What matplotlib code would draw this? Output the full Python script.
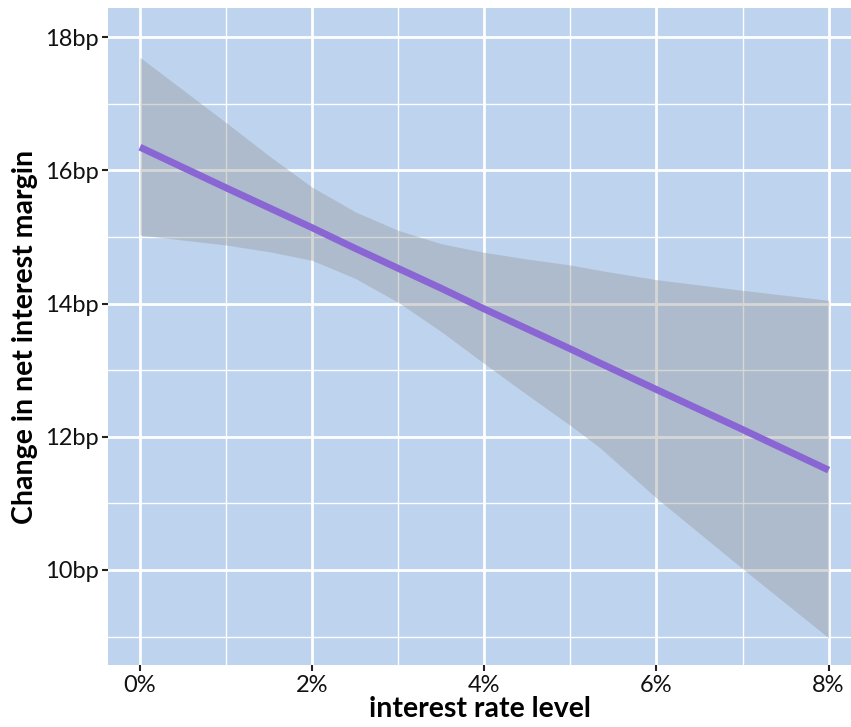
import matplotlib.pyplot as plt
import numpy as np

# interest rate level (%) and fitted change in NIM (bp)
rate = [0, 1, 1.5, 2, 2.5, 3, 3.5, 4, 4.5, 5, 5.34, 6, 7, 8]
fit = [16.35, 15.74, 15.44, 15.14, 14.83, 14.53, 14.23, 13.92, 13.62, 13.32,
       13.11, 12.71, 12.11, 11.50]
upper = [17.70, 16.72, 16.22, 15.75, 15.38, 15.10, 14.90, 14.77, 14.67, 14.58,
         14.50, 14.36, 14.20, 14.05]
lower = [15.03, 14.88, 14.78, 14.65, 14.38, 14.02, 13.58, 13.10, 12.63, 12.17,
         11.84, 11.08, 10.02, 8.98]

xticks = [0, 2, 4, 6, 8]
xlabels = ['0%', '2%', '4%', '6%', '8%']
yticks = [10, 12, 14, 16, 18]
ylabels = ['10bp', '12bp', '14bp', '16bp', '18bp']

plt.rcParams['font.family'] = ['Lato', 'DejaVu Sans']

fig = plt.figure(figsize=(8.51, 7.27), dpi=100)
ax = fig.add_axes([0.127, 0.085, 0.873, 0.904])
ax.set_facecolor('#BDD3EE')

# grid: minor then major
for v in [1, 3, 5, 7]:
    ax.axvline(v, color='white', lw=1.0, zorder=0)
for v in [9, 11, 13, 15, 17]:
    ax.axhline(v, color='white', lw=1.0, zorder=0)
for v in xticks:
    ax.axvline(v, color='white', lw=2.0, zorder=0)
for v in yticks:
    ax.axhline(v, color='white', lw=2.0, zorder=0)

ax.fill_between(rate, lower, upper, color='#999999', alpha=0.4, lw=0, zorder=1)
ax.plot(rate, fit, color='#8A66D4', lw=5, solid_capstyle='butt', zorder=2)

ax.set_xlim(-0.37, 8.26)
ax.set_ylim(8.57, 18.44)
ax.set_xticks(xticks)
ax.set_xticklabels(xlabels)
ax.set_yticks(yticks)
ax.set_yticklabels(ylabels)
ax.tick_params(axis='both', length=4, width=1.5, color='#222222', labelsize=17,
               labelcolor='#111111', pad=3)
for s in ax.spines.values():
    s.set_visible(False)

ax.set_xlabel('interest rate level', fontsize=20.5, fontweight='bold', labelpad=0)
ax.set_ylabel('Change in net interest margin', fontsize=20.5, fontweight='bold', labelpad=5)

fig.savefig('out.png', dpi=100)
